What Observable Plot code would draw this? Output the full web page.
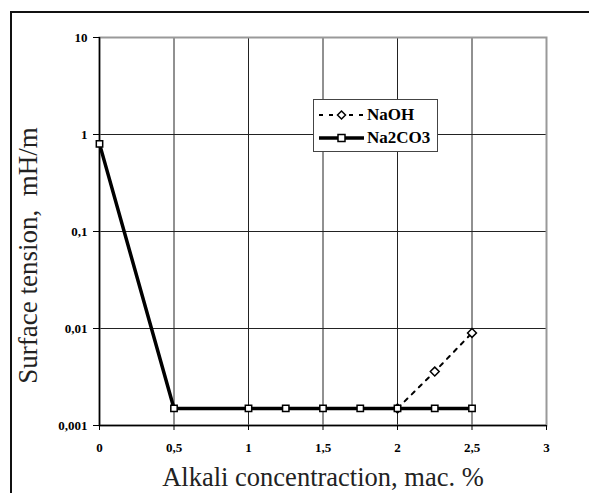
<!DOCTYPE html>
<html>
<head>
<meta charset="utf-8">
<script src="https://cdn.jsdelivr.net/npm/d3@7"></script>
<script src="https://cdn.jsdelivr.net/npm/@observablehq/plot@0.6"></script>
<style>
  html, body { margin: 0; padding: 0; background: #fff; }
  #wrap { position: relative; width: 589px; height: 493px; overflow: hidden; background: #fff; }
  #outer { position: absolute; left: 10px; top: 11px; width: 700px; height: 700px;
           border-top: 2px solid #111; border-left: 2px solid #111; pointer-events: none; }
  #legend { position: absolute; left: 313px; top: 99px; width: 125px; height: 53px;
            border: 1px solid #444; background: #fff; font-family: 'Liberation Serif', 'Times New Roman', Tinos, serif;
            font-weight: bold; font-size: 17px; box-sizing: border-box; }
  .row { position: absolute; left: 4px; height: 20px; display: flex; align-items: center; }
  .row svg { display: block; }
  .row span { margin-left: 2px; }
  svg text { font-family: 'Liberation Serif', 'Times New Roman', Tinos, serif; }
</style>
</head>
<body>
<div id="wrap">
  <div id="chart"></div>
  <div id="outer"></div>
  <div id="legend">
    <div class="row" style="top:5px">
      <svg width="47" height="20"><line x1="1" y1="10" x2="46" y2="10" stroke="#000" stroke-width="2" stroke-dasharray="4,6"/><path d="M23.5,6 L27.5,10 L23.5,14 L19.5,10 Z" fill="#fff" stroke="#000" stroke-width="1.5"/></svg>
      <span>NaOH</span>
    </div>
    <div class="row" style="top:28px">
      <svg width="47" height="20"><line x1="1" y1="10" x2="46" y2="10" stroke="#000" stroke-width="3.5"/><rect x="20" y="6.5" width="7" height="7" fill="#fff" stroke="#000" stroke-width="1.5"/></svg>
      <span>Na2CO3</span>
    </div>
  </div>
</div>
<script>
// Data
const naohX = [2, 2.25, 2.5];
const naohY = [0.0015, 0.0036, 0.009];
const na2co3X = [0, 0.5, 1, 1.25, 1.5, 1.75, 2, 2.25, 2.5];
const na2co3Y = [0.8, 0.0015, 0.0015, 0.0015, 0.0015, 0.0015, 0.0015, 0.0015, 0.0015];

const xTicks = [0, 0.5, 1, 1.5, 2, 2.5, 3];
const xTickLabels = ["0", "0,5", "1", "1,5", "2", "2,5", "3"];
const yTicks = [10, 1, 0.1, 0.01, 0.001];
const yTickLabels = ["10", "1", "0,1", "0,01", "0,001"];

const xTitle = "Alkali concentraction, mac. %";
const yTitle = "Surface tension,  mH/m";

const naoh = naohX.map((x, i) => ({x, y: naohY[i]}));
const na2co3 = na2co3X.map((x, i) => ({x, y: na2co3Y[i]}));

const serif = "'Liberation Serif', 'Times New Roman', Tinos, serif";

const chart = Plot.plot({
  width: 589,
  height: 493,
  marginLeft: 99,
  marginRight: 43,
  marginTop: 37,
  marginBottom: 68,
  style: {fontFamily: serif, background: "#fff", overflow: "visible"},
  x: {domain: [0, 3]},
  y: {type: "log", domain: [0.001, 10]},
  marks: [
    Plot.gridX(xTicks.slice(1, -1), {stroke: "#222", strokeOpacity: 1, strokeWidth: 1}),
    Plot.gridY(yTicks.slice(1, -1), {stroke: "#222", strokeOpacity: 1, strokeWidth: 1}),
    Plot.frame({stroke: "#999", strokeWidth: 2}),
    Plot.ruleX([0], {stroke: "#000", strokeWidth: 1.5}),
    Plot.ruleY([0.001], {stroke: "#000", strokeWidth: 1.5}),
    Plot.axisX({
      ticks: xTicks, tickSize: 5, tickPadding: 12, stroke: "#000",
      tickFormat: (d) => xTickLabels[xTicks.indexOf(d)],
      fontSize: 13, fontWeight: "bold", fill: "#000", label: null, fontFamily: serif
    }),
    Plot.axisY({
      ticks: yTicks, tickSize: 6, tickPadding: 6, stroke: "#000",
      tickFormat: (d) => yTickLabels[yTicks.indexOf(d)],
      fontSize: 13, fontWeight: "bold", fill: "#000", label: null, fontFamily: serif
    }),
    Plot.line(naoh, {x: "x", y: "y", stroke: "#000", strokeWidth: 2, strokeDasharray: "4,6"}),
    Plot.line(na2co3, {x: "x", y: "y", stroke: "#000", strokeWidth: 3.5}),
    Plot.dot(naoh, {x: "x", y: "y", symbol: "diamond2", r: 4, fill: "#fff", stroke: "#000", strokeWidth: 1.5}),
    Plot.dot(na2co3, {x: "x", y: "y", symbol: "square", r: 3.6, fill: "#fff", stroke: "#000", strokeWidth: 1.5}),
    Plot.text([xTitle], {frameAnchor: "bottom", lineAnchor: "middle", textAnchor: "middle", dy: 52, fontSize: 26.5, fill: "#222", fontFamily: serif}),
    Plot.text([yTitle], {frameAnchor: "left", lineAnchor: "middle", textAnchor: "middle", dx: -71, dy: 24, rotate: -90, fontSize: 27, fill: "#222", fontFamily: serif})
  ]
});
document.getElementById("chart").appendChild(chart);
</script>
</body>
</html>
